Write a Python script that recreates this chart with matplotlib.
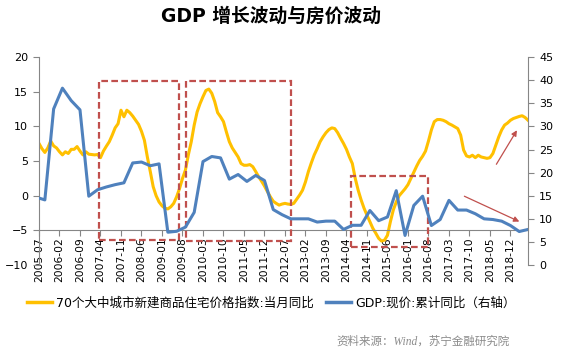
import matplotlib
matplotlib.use("Agg")
import matplotlib.pyplot as plt
from matplotlib.patches import Rectangle
from matplotlib.lines import Line2D

plt.rcParams['font.family'] = ['DejaVu Sans', 'Noto Sans CJK SC']

# month index 0 = 2005-07, last = 2019-06
house_yoy = [
    7.55, 6.8, 6.25, 6.9, 7.9, 7.2, 6.9, 6.35, 5.9, 6.35,
    6.1, 6.7, 6.7, 7.1, 6.45, 5.9, 6.35, 6.0, 5.95, 5.9,
    5.95, 5.5, 6.45, 7.15, 7.8, 8.75, 9.8, 10.4, 12.35, 11.4,
    12.35, 12.0, 11.5, 10.9, 10.3, 9.3, 8.0, 5.6, 3.5, 1.3,
    0.0, -0.9, -1.45, -1.8, -1.9, -1.6, -1.1, -0.15, 1.05, 2.5,
    3.7, 5.9, 7.8, 10.2, 12.1, 13.3, 14.3, 15.2, 15.4, 14.8,
    13.6, 12.0, 11.4, 10.7, 9.2, 7.8, 6.9, 6.25, 5.6, 4.65,
    4.4, 4.4, 4.5, 4.2, 3.5, 2.75, 2.1, 1.4, 0.6, -0.15,
    -0.8, -1.1, -1.35, -1.2, -1.1, -1.2, -1.25, -1.1, -0.5, 0.1,
    0.8, 2.0, 3.5, 4.75, 5.9, 6.8, 7.8, 8.5, 9.1, 9.55,
    9.8, 9.7, 9.1, 8.3, 7.55, 6.7, 5.6, 4.65, 2.5, 0.8,
    -0.6, -1.8, -2.8, -3.75, -4.7, -5.4, -6.15, -6.55, -6.4, -5.7,
    -3.75, -2.05, -0.9, 0.0, 0.5, 1.0, 1.6, 2.5, 3.4, 4.3,
    5.1, 5.7, 6.45, 7.9, 9.5, 10.7, 11.0, 11.0, 10.9, 10.7,
    10.4, 10.2, 9.95, 9.7, 8.75, 6.6, 5.75, 5.6, 5.85, 5.5,
    5.85, 5.6, 5.5, 5.4, 5.5, 6.1, 7.3, 8.5, 9.5, 10.2,
    10.5, 10.9, 11.15, 11.3, 11.45, 11.55, 11.3, 10.9,
]
house_months = list(range(len(house_yoy)))

# GDP cumulative yoy (quarterly points, right axis)
gdp_months = [0] + list(range(2, 168, 3))
gdp_yoy = [
    14.5, 14.1, 33.8, 38.3, 35.6, 33.6, 14.9, 16.3, 16.9, 17.4,
    17.8, 22.1, 22.3, 21.5, 21.9, 7.1, 7.3, 8.2, 11.4, 22.4,
    23.5, 23.2, 18.6, 19.6, 18.1, 19.4, 18.3, 12.0, 10.9, 10.0,
    10.0, 10.0, 9.3, 9.5, 9.5, 7.7, 8.6, 8.6, 11.8, 9.6,
    10.4, 16.1, 6.4, 12.9, 14.9, 8.55, 9.85, 14.0, 11.9, 11.9,
    11.1, 10.0, 9.85, 9.5, 8.55, 7.25, 7.7,
]

tick_labels = [
    '2005-07', '2006-02', '2006-09', '2007-04', '2007-11', '2008-06',
    '2009-01', '2009-08', '2010-03', '2010-10', '2011-05', '2011-12',
    '2012-07', '2013-02', '2013-09', '2014-04', '2014-11', '2015-06',
    '2016-01', '2016-08', '2017-03', '2017-10', '2018-05', '2018-12',
]

yellow = '#FFC000'
blue = '#4F81BD'
red = '#C0504D'
gray = '#868686'

fig = plt.figure(figsize=(5.66, 3.57), dpi=100)
ax = fig.add_axes([0.0689, 0.2577, 0.864, 0.582])
ax2 = ax.twinx()

ax.plot(house_months, house_yoy, color=yellow, lw=2.2, solid_joinstyle='round')
ax2.plot(gdp_months, gdp_yoy, color=blue, lw=2.2, solid_joinstyle='round')

for s in ['top', 'right']:
    ax.spines[s].set_visible(False)
for s in ['top', 'bottom', 'left']:
    ax2.spines[s].set_visible(False)
ax.spines['bottom'].set_position(('data', -5))
ax.spines['left'].set_color(gray)
ax.spines['bottom'].set_color(gray)
ax2.spines['right'].set_color(gray)

ax.set_xlim(0, 167)
ax.set_ylim(-10, 20)
ax2.set_ylim(0, 45)
ax.set_yticks(range(-10, 21, 5))
ax2.set_yticks(range(0, 46, 5))
ax.set_xticks(range(0, 168, 7))
ax.set_xticklabels(tick_labels)

ax.tick_params(axis='y', length=4, color=gray, labelsize=8, pad=4)
ax2.tick_params(axis='y', length=4, color=gray, labelsize=8, pad=4)
ax.tick_params(axis='x', length=4, color=gray, labelsize=7.7, pad=1, labelrotation=90)

# highlight boxes (left-axis units)
boxes = [(20.6, -6.4, 47.8, 16.6), (50.1, -6.5, 86.1, 16.5), (106.4, -7.35, 133.0, 2.9)]
for x0, y0, x1, y1 in boxes:
    ax2.add_patch(Rectangle((x0, y0), x1 - x0, y1 - y0, transform=ax.transData,
                            fill=False, ec=red, lw=1.6, ls=(0, (3, 1.5)), clip_on=False))

# trend arrows (right-axis units)
ax2.annotate('', xy=(163.7, 29.7), xytext=(155.7, 21.3),
             arrowprops=dict(arrowstyle='-|>', color=red, lw=0.9, mutation_scale=8))
ax2.annotate('', xy=(164.9, 9.15), xytext=(144.4, 15.15),
             arrowprops=dict(arrowstyle='-|>', color=red, lw=0.9, mutation_scale=8))

fig.text(0.479, 0.955, 'GDP 增长波动与房价波动', ha='center', va='center',
         fontsize=13.5, fontweight='bold')

handles = [Line2D([], [], color=yellow, lw=2.5), Line2D([], [], color=blue, lw=2.5)]
fig.legend(handles, ['70个大中城市新建商品住宅价格指数:当月同比', 'GDP:现价:累计同比（右轴）'],
           loc='center', bbox_to_anchor=(0.479, 0.152), ncol=2, frameon=False,
           fontsize=9, handlelength=2.0, handletextpad=0.3, columnspacing=1.0)

fig.text(0.901, 0.042, '资料来源：Wind，苏宁金融研究院', ha='right', va='center',
         fontsize=8.3, color='#8C8C8C', style='italic',
         family=['Liberation Serif', 'Noto Sans CJK SC'])

fig.savefig('out.png', dpi=100)
